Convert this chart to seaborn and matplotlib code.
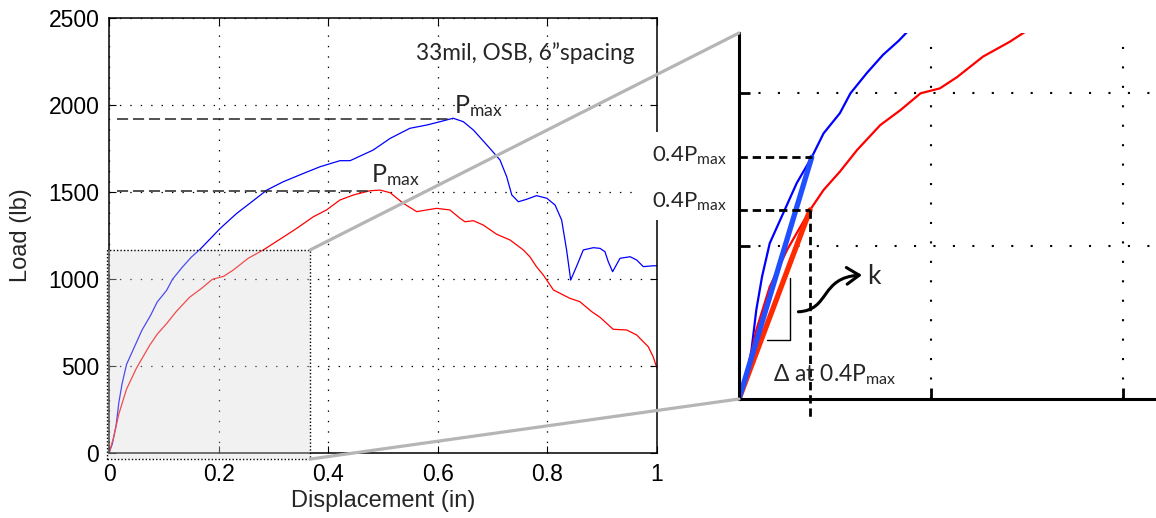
import matplotlib
matplotlib.use("Agg")
import matplotlib.pyplot as plt
from matplotlib.patches import Rectangle, ConnectionPatch, FancyArrowPatch
from matplotlib.path import Path
import seaborn as sns

# ---------------------------------
# Data
# ---------------------------------

blue_disp = [0, 0.006, 0.013, 0.018, 0.024, 0.032, 0.046, 0.060, 0.0757, 0.088,
             0.105, 0.116, 0.133, 0.150, 0.166, 0.185, 0.203, 0.233, 0.257, 0.288,
             0.318, 0.355, 0.385, 0.4215, 0.440, 0.482, 0.513, 0.549, 0.580, 0.604,
             0.628, 0.6466, 0.665, 0.695, 0.7135, 0.7257, 0.735, 0.747, 0.762, 0.780,
             0.799, 0.814, 0.826, 0.835, 0.8425, 0.853, 0.8655, 0.884, 0.896, 0.905,
             0.911, 0.919, 0.9325, 0.951, 0.963, 0.975, 0.993, 1.0]
blue_load = [0, 51, 160, 291, 400, 509, 607, 705, 790, 868,
             934, 999, 1065, 1125, 1170, 1232, 1291, 1377, 1435, 1511,
             1559, 1607, 1645, 1680, 1680, 1741, 1808, 1866, 1885, 1904,
             1924, 1904, 1856, 1751, 1684, 1588, 1483, 1444, 1458, 1479,
             1464, 1425, 1339, 1167, 994, 1071, 1167, 1180, 1176, 1157,
             1100, 1042, 1119, 1128, 1109, 1071, 1076, 1076]

red_disp = [0, 0.008, 0.018, 0.032, 0.050, 0.074, 0.088, 0.105, 0.123, 0.147,
            0.168, 0.189, 0.209, 0.227, 0.254, 0.2816, 0.324, 0.3425, 0.373, 0.397,
            0.4215, 0.446, 0.476, 0.4945, 0.513, 0.537, 0.5615, 0.580, 0.598, 0.622,
            0.6405, 0.6496, 0.665, 0.683, 0.7075, 0.732, 0.756, 0.768, 0.780, 0.7925,
            0.811, 0.841, 0.859, 0.881, 0.896, 0.920, 0.9447, 0.963, 0.984, 0.993,
            1.0]
red_load = [0, 84, 225, 367, 487, 618, 683, 743, 814, 895,
            944, 999, 1015, 1052, 1119, 1167, 1253, 1291, 1358, 1397,
            1454, 1483, 1507, 1511, 1496, 1435, 1387, 1397, 1406, 1397,
            1349, 1329, 1335, 1310, 1257, 1224, 1167, 1128, 1071, 1023,
            937, 889, 870, 812, 780, 711, 707, 678, 611, 553,
            487]

pmax_disp = [0.628, 0.480]      # blue, red
pmax_load = [1920, 1507]
k_disp = [0.0757, 0.074]        # 0.4 Pmax points (blue, red)
k_load = [790, 618]

x_ticks = [0, 0.2, 0.4, 0.6, 0.8, 1]
x_labels = ["0", "0.2", "0.4", "0.6", "0.8", "1"]
y_ticks = [0, 500, 1000, 1500, 2000, 2500]

zoom_xticks = [0.2, 0.4]
zoom_yticks = [500, 1000]
zoom_box_x = [-0.004, 0.367]
zoom_box_y = [-35, 1167]
zoom_xlim = [0, 0.434]
zoom_ylim = [0, 1196]

tri_x = [0.0289, 0.0531, 0.0531]
tri_y = [193, 193, 395]

BLUE = "#0000ff"
RED = "#ff0000"

# ---------------------------------
# Style
# ---------------------------------

sns.set_style("ticks")
plt.rcParams["font.family"] = ["Liberation Sans", "DejaVu Sans"]
plt.rcParams["mathtext.fontset"] = "custom"
plt.rcParams["mathtext.rm"] = "Lato"
plt.rcParams["mathtext.default"] = "regular"
plt.rcParams["lines.scale_dashes"] = False
ANN = ["Lato", "DejaVu Sans"]

fig = plt.figure(figsize=(11.56, 5.18), dpi=100)
ax = fig.add_axes([109 / 1156, 65 / 518, 548 / 1156, 435 / 518])
axz = fig.add_axes([739 / 1156, 119 / 518, 417 / 1156, 366 / 518])

# ---------------------------------
# Main panel
# ---------------------------------

sns.lineplot(x=blue_disp, y=blue_load, ax=ax, color=BLUE, lw=0.9,
             estimator=None, sort=False)
sns.lineplot(x=red_disp, y=red_load, ax=ax, color=RED, lw=0.9,
             estimator=None, sort=False)

ax.set_xlim(0, 1)
ax.set_ylim(0, 2500)
ax.set_xticks(x_ticks)
ax.set_xticklabels(x_labels)
ax.set_yticks(y_ticks)
ax.tick_params(direction="in", top=True, right=True, length=5, width=0.8,
               labelsize=16.5, pad=7, colors="k")
ax.grid(True, color="k", linestyle=(0, (1, 6.5)), lw=0.9)
for s in ax.spines.values():
    s.set_linewidth(1.1)
    s.set_color("k")

ax.set_xlabel("Displacement (in)", fontsize=17)
ax.set_ylabel("Load (lb)", fontsize=17)
ax.xaxis.set_label_coords(0.5, -0.085)
ax.yaxis.set_label_coords(-0.14, 0.5)

for d, l in zip(pmax_disp, pmax_load):
    ax.plot([0.014, d], [l, l], color="#222222", lw=1.1,
            linestyle=(0, (8, 3.5)))
ax.text(0.630, 1994, "P$_{max}$", family=ANN, fontsize=18, ha="left", va="center")
ax.text(0.479, 1600, "P$_{max}$", family=ANN, fontsize=18, ha="left", va="center")
ax.text(0.959, 2299, "33mil, OSB, 6\u201dspacing", family=ANN, fontsize=16.3,
        ha="right", va="center")

# shaded zoom region
bw = zoom_box_x[1] - zoom_box_x[0]
bh = zoom_box_y[1] - zoom_box_y[0]
ax.add_patch(Rectangle((zoom_box_x[0], zoom_box_y[0]), bw, bh,
                       facecolor="#d9d9d9", alpha=0.35, edgecolor="none",
                       clip_on=False, zorder=3))
ax.add_patch(Rectangle((zoom_box_x[0], zoom_box_y[0]), bw, bh,
                       facecolor="none", edgecolor="k", lw=1,
                       linestyle=(0, (1, 1.5)), clip_on=False, zorder=3))

# ---------------------------------
# Zoom panel
# ---------------------------------

sns.lineplot(x=blue_disp, y=blue_load, ax=axz, color=BLUE, lw=1.6,
             estimator=None, sort=False)
sns.lineplot(x=red_disp, y=red_load, ax=axz, color=RED, lw=1.6,
             estimator=None, sort=False)

axz.plot([0, k_disp[1]], [0, k_load[1]], color="#ff2a00", lw=3.8,
         solid_capstyle="round")
axz.plot([0, k_disp[0]], [0, k_load[0]], color="#1f4fff", lw=3.8,
         solid_capstyle="round")

for d, l in zip(k_disp, k_load):
    axz.plot([0, d], [l, l], color="k", lw=2, linestyle=(0, (6, 3.5)))
axz.plot([k_disp[1], k_disp[1]], [k_load[1], -69], color="k", lw=2,
         linestyle=(0, (6, 3.5)), clip_on=False)

axz.plot(tri_x, tri_y, color="k", lw=1)

arrow_path = Path([(0.0618, 285), (0.095, 290), (0.084, 398), (0.128, 405)],
                  [Path.MOVETO, Path.CURVE4, Path.CURVE4, Path.CURVE4])
axz.add_patch(FancyArrowPatch(path=arrow_path,
                              arrowstyle="->,head_length=0.45,head_width=0.3",
                              mutation_scale=20, lw=2.2, color="k"))
axz.text(0.133, 400, "k", family=ANN, fontsize=19, ha="left", va="center")
axz.text(0.0354, 56, "\u0394 at 0.4P$_{max}$", family=ANN, fontsize=16.5,
         ha="left", va="baseline")

axz.set_xlim(zoom_xlim)
axz.set_ylim(zoom_ylim)
axz.set_xticks(zoom_xticks)
axz.set_yticks(zoom_yticks)
axz.set_xticklabels([])
axz.set_yticklabels([])
axz.set_xlabel("")
axz.set_ylabel("")
axz.tick_params(direction="in", length=8, width=2, colors="k")
axz.grid(True, color="k", linestyle=(0, (1.5, 12.5)), lw=1.5)
axz.spines["top"].set_visible(False)
axz.spines["right"].set_visible(False)
for s in ["left", "bottom"]:
    axz.spines[s].set_linewidth(2.2)
    axz.spines[s].set_color("k")

# white label box over the gap, with the 0.4 Pmax labels
fig.add_artist(Rectangle((640 / 1156, 1 - 220 / 518), 96 / 1156, 88 / 518,
                         transform=fig.transFigure, facecolor="white",
                         edgecolor="none", zorder=2))
fig.text(727 / 1156, 1 - 161.7 / 518, "0.4P$_{max}$", family=ANN, fontsize=16,
         ha="right", va="baseline", zorder=4)
fig.text(727 / 1156, 1 - 207.3 / 518, "0.4P$_{max}$", family=ANN, fontsize=16,
         ha="right", va="baseline", zorder=4)

# gray connector lines
for ya, yb in [(zoom_box_y[1], 1), (zoom_box_y[0], 0)]:
    fig.add_artist(ConnectionPatch(xyA=(zoom_box_x[1], ya), coordsA=ax.transData,
                                   xyB=(0, yb), coordsB=axz.transAxes,
                                   color="#b5b5b5", lw=2.3, zorder=3))

fig.savefig("out.png", dpi=100)
